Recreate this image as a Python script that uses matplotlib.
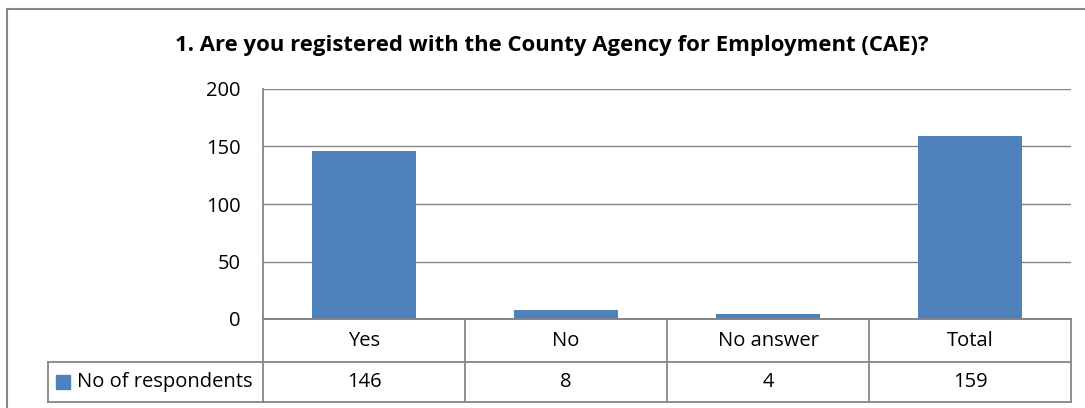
import matplotlib
matplotlib.use("Agg")
import matplotlib.pyplot as plt
from matplotlib.lines import Line2D
from matplotlib.patches import Rectangle
import matplotlib.transforms as mtransforms

categories = ["Yes", "No", "No answer", "Total"]
respondents = [146, 8, 4, 159]
series_name = "No of respondents"
title = "1. Are you registered with the County Agency for Employment (CAE)?"

W, H = 1085, 408
fig = plt.figure(figsize=(W / 100, H / 100), dpi=100)
plt.rcParams['font.family'] = ['Open Sans', 'DejaVu Sans']

def fx(px):
    return px / W

def fy(py):
    return 1 - py / H

bar_color = "#4f81bd"
line_color = "#868686"
fs = 14.5

# outer chart border (right and bottom edges fall outside the picture)
fig.patches.append(Rectangle((fx(7), fy(420)), fx(1100), 411 / H, transform=fig.transFigure,
                             fill=False, edgecolor=line_color, lw=1.5))

ax_left, ax_right, ax_top, ax_bot = 263, 1071, 89, 319
ax = fig.add_axes([fx(ax_left), fy(ax_bot), fx(ax_right - ax_left), (ax_bot - ax_top) / H])
x = range(len(categories))
ax.bar(x, respondents, width=0.515, color=bar_color, zorder=3)
ax.set_xlim(-0.5, len(categories) - 0.5)
ax.set_ylim(0, 200)
ax.set_yticks([0, 50, 100, 150, 200])
ax.yaxis.grid(True, color=line_color, lw=1)
ax.set_axisbelow(True)
ax.set_xticks([])
ax.tick_params(axis='y', length=0, labelsize=fs, pad=16)
for s in ["top", "right"]:
    ax.spines[s].set_visible(False)
ax.spines["left"].set_color(line_color)
ax.spines["bottom"].set_color(line_color)
ax.spines["left"].set_linewidth(1.3)
ax.spines["bottom"].set_linewidth(1.3)

fig.text(fx(552), fy(45), title, ha='center', va='center', fontsize=15.9, fontweight='bold')

# data table under the axis
tr = mtransforms.blended_transform_factory(ax.transData, fig.transFigure)
row1, row2, row3 = fy(319), fy(362), fy(402)
n = len(categories)
kw = dict(color=line_color, lw=1.3)
for i in range(n + 1):
    fig.add_artist(Line2D([i - 0.5, i - 0.5], [row1, row3], transform=tr, **kw))
fig.add_artist(Line2D([-0.5, n - 0.5], [row1, row1], transform=tr, **kw))
fig.add_artist(Line2D([-0.5, n - 0.5], [row2, row2], transform=tr, **kw))
fig.add_artist(Line2D([-0.5, n - 0.5], [row3, row3], transform=tr, **kw))
fig.add_artist(Line2D([fx(48), fx(ax_left)], [row2, row2], transform=fig.transFigure, **kw))
fig.add_artist(Line2D([fx(48), fx(ax_left)], [row3, row3], transform=fig.transFigure, **kw))
fig.add_artist(Line2D([fx(48), fx(48)], [row2, row3], transform=fig.transFigure, **kw))

for i, (c, v) in enumerate(zip(categories, respondents)):
    fig.text(i, (row1 + row2) / 2, c, transform=tr, ha='center', va='center', fontsize=fs)
    fig.text(i, (row2 + row3) / 2, str(v), transform=tr, ha='center', va='center', fontsize=fs)

fig.patches.append(Rectangle((fx(56), fy(389)), fx(14), 14 / H, transform=fig.transFigure,
                             color=bar_color))
fig.text(fx(77), (row2 + row3) / 2, series_name, ha='left', va='center', fontsize=fs)

fig.savefig("out.png", dpi=100)
